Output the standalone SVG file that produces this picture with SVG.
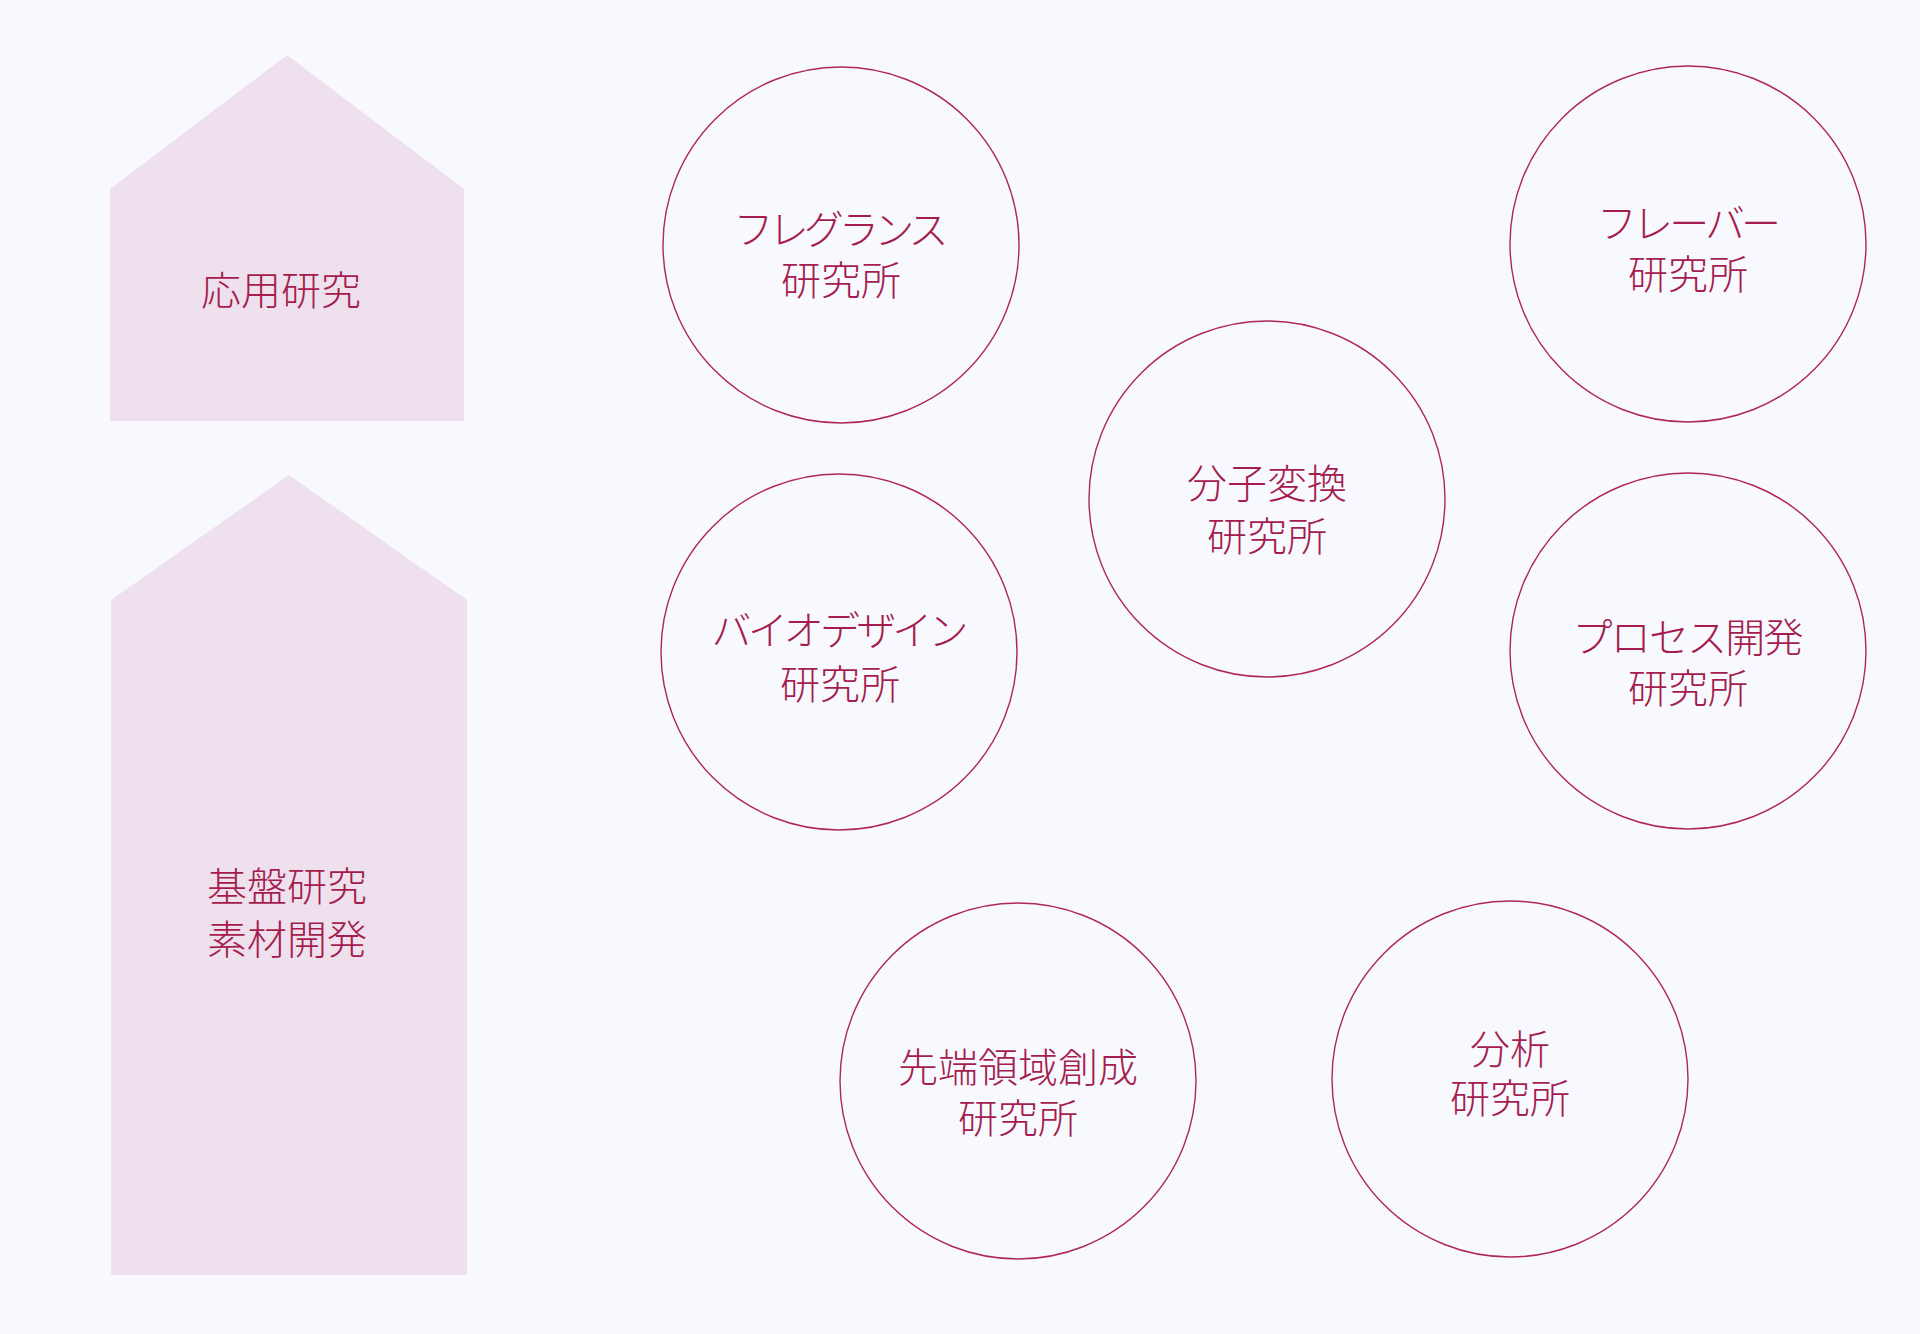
<svg xmlns="http://www.w3.org/2000/svg" width="1920" height="1334" viewBox="0 0 1920 1334">
<style>
.bg{fill:#f7f9fe}
.house{fill:#eee1ed}
.lab{fill:#a51c4e;font-family:"Noto Sans CJK JP","Noto Sans CJK SC",sans-serif;font-size:40px;font-weight:300;text-anchor:middle}
.ring{fill:none;stroke:#b02658;stroke-width:1.4}
</style>
<rect class="bg" x="0" y="0" width="1920" height="1334"/>
<g id="applied">
<polygon class="house" points="110,189 287,55 464,189 464,421 110,421"/>
<text class="lab" x="281" y="305">応用研究</text>
</g>
<g id="basic">
<polygon class="house" points="111,600 289,475 467,600 467,1275 111,1275"/>
<text class="lab" x="287" y="901">基盤研究</text>
<text class="lab" x="287" y="954">素材開発</text>
</g>
<g id="connectors"></g>
<g id="fragrance">
<circle class="ring" cx="841" cy="245" r="178"/>
<text class="lab" x="841" y="244" textLength="215" lengthAdjust="spacing">フレグランス</text>
<text class="lab" x="841" y="295">研究所</text>
</g>
<g id="flavor">
<circle class="ring" cx="1688" cy="244" r="178"/>
<text class="lab" x="1689" y="238" textLength="184" lengthAdjust="spacing">フレーバー</text>
<text class="lab" x="1688" y="289">研究所</text>
</g>
<g id="molecular">
<circle class="ring" cx="1267" cy="499" r="178"/>
<text class="lab" x="1267" y="498">分子変換</text>
<text class="lab" x="1267" y="551">研究所</text>
</g>
<g id="biodesign">
<circle class="ring" cx="839" cy="652" r="178"/>
<text class="lab" x="840" y="645" textLength="257" lengthAdjust="spacing">バイオデザイン</text>
<text class="lab" x="840" y="699">研究所</text>
</g>
<g id="process">
<circle class="ring" cx="1688" cy="651" r="178"/>
<text class="lab" x="1688" y="652" textLength="231" lengthAdjust="spacing">プロセス開発</text>
<text class="lab" x="1688" y="703">研究所</text>
</g>
<g id="frontier">
<circle class="ring" cx="1018" cy="1081" r="178"/>
<text class="lab" x="1018" y="1082">先端領域創成</text>
<text class="lab" x="1018" y="1133">研究所</text>
</g>
<g id="analysis">
<circle class="ring" cx="1510" cy="1079" r="178"/>
<text class="lab" x="1510" y="1064">分析</text>
<text class="lab" x="1510" y="1113">研究所</text>
</g>
</svg>
